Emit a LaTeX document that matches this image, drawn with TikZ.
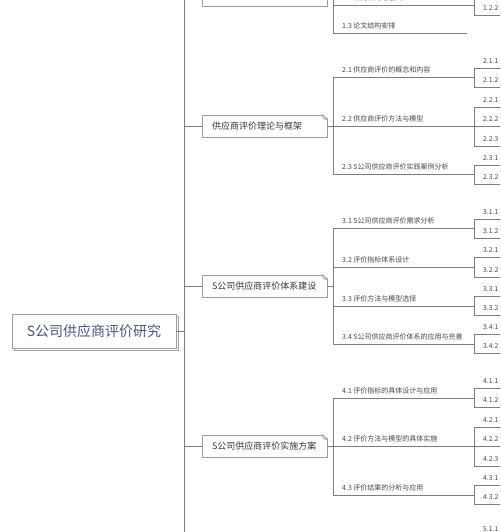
\documentclass[tikz,border=0pt]{standalone}
\usepackage{fontspec}
\newfontfamily\cjk{Noto Sans CJK SC}
\usetikzlibrary{shadows}
\definecolor{linegray}{HTML}{7E7E7E}
\definecolor{boxgray}{HTML}{9E9E9E}
\definecolor{rootblue}{HTML}{4A5585}
\definecolor{textdark}{HTML}{353535}
\definecolor{textgray}{HTML}{474747}
\newcommand\dogear[1]{%
  \fill[white] ([xshift=-5pt]#1.north east) -- ([xshift=0.6pt,yshift=0.6pt]#1.north east) -- ([yshift=-5pt]#1.north east) -- cycle;
  \draw[boxline] ([xshift=-5pt]#1.north east) -- ([yshift=-5pt]#1.north east);
  \draw[boxline] ([xshift=-5pt]#1.north east) -- ([xshift=-4pt,yshift=-4pt]#1.north east) -- ([yshift=-5pt]#1.north east);
}
\begin{document}
\begin{tikzpicture}[x=1pt,y=-1pt,
  conn/.style={draw=linegray, line width=0.8pt},
  boxline/.style={draw=boxgray, line width=0.75pt},
  rootbox/.style={boxline, fill=white, font=\cjk\fontsize{14}{16}\selectfont, text=rootblue,
     minimum width=164pt, minimum height=34pt, inner sep=0pt,
     copy shadow={shadow xshift=2.5pt, shadow yshift=-2.5pt, draw=boxgray, fill=white}},
  chap/.style={boxline, fill=white, font=\cjk\fontsize{9}{11}\selectfont, text=textdark,
     text width=105pt, inner xsep=10pt, inner ysep=0pt, minimum height=22pt, align=left},
  seclabel/.style={font=\cjk\fontsize{7}{8}\selectfont, text=textgray, anchor=base west, inner sep=0pt},
  sublabel/.style={font=\cjk\fontsize{6.8}{8}\selectfont, text=textgray, anchor=base west, inner sep=0pt}
]
\useasboundingbox (0,0) rectangle (500,532);
\fill[white] (0,0) rectangle (500,532);
\clip (0,0) rectangle (500,532);

% trunk
\coordinate (trunktop) at (184,-40);
\coordinate (trunkbot) at (184,580);
\draw[conn] (trunktop) -- (trunkbot);

% root
\node[rootbox] (root) at (94,331) {S公司供应商评价研究};
\coordinate (jroot) at (184,331);
\draw[conn] (root.east) -- (jroot);

% chapters
\foreach \n/\y/\t in {1/-5/{}, 2/126/{供应商评价理论与框架}, 3/286/{S公司供应商评价体系建设}, 4/446/{S公司供应商评价实施方案}} {
  \coordinate (jt\n) at (184,\y);
  \coordinate (jb\n) at (333,\y);
  \node[chap] (c\n) at (264.5,\y) {\t};
  \dogear{c\n}
  \draw[conn] (jt\n) -- (c\n.west);
  \draw[conn] (c\n.east) -- (jb\n);
}

% section brackets
\coordinate (br1a) at (333,-40); \coordinate (br1b) at (333,33);
\coordinate (br2a) at (333,77);  \coordinate (br2b) at (333,174);
\coordinate (br3a) at (333,228); \coordinate (br3b) at (333,344);
\coordinate (br4a) at (333,398); \coordinate (br4b) at (333,495);
\foreach \n in {1,2,3,4} { \draw[conn] (br\n a) -- (br\n b); }

% sections
\foreach \n/\y/\e/\t in {
  12/5/474/{1.2 研究目的与意义},
  13/33/467/{1.3 论文结构安排},
  21/77/474/{2.1 供应商评价的概念和内容},
  22/126/474/{2.2 供应商评价方法与模型},
  23/174/474/{2.3 S公司供应商评价实践案例分析},
  31/228/474/{3.1 S公司供应商评价需求分析},
  32/267/474/{3.2 评价指标体系设计},
  33/306/474/{3.3 评价方法与模型选择},
  34/344/474/{3.4 S公司供应商评价体系的应用与完善},
  41/398/474/{4.1 评价指标的具体设计与应用},
  42/446/474/{4.2 评价方法与模型的具体实施},
  43/495/474/{4.3 评价结果的分析与应用}} {
  \coordinate (sa\n) at (333,\y);
  \coordinate (sb\n) at (\e,\y);
  \draw[conn] (sa\n) -- (sb\n);
  \node[seclabel] (sl\n) at (342,\y-4.5) {\t};
}

% subsection brackets
\foreach \n/\a/\b in {12/-30/15, 21/68/87, 22/107/146, 23/165/184,
  31/219/238, 32/257/277, 33/296/315, 34/334/353,
  41/388/407, 42/427/466, 43/485/504} {
  \coordinate (ua\n) at (474,\a);
  \coordinate (ub\n) at (474,\b);
  \draw[conn] (ua\n) -- (ub\n);
}

% subsections
\foreach \y/\t [count=\i] in {
  15/1.2.2, 68/2.1.1, 87/2.1.2, 107/2.2.1, 126/2.2.2, 146/2.2.3, 165/2.3.1, 184/2.3.2,
  219/3.1.1, 238/3.1.2, 257/3.2.1, 277/3.2.2, 296/3.3.1, 315/3.3.2, 334/3.4.1, 353/3.4.2,
  388/4.1.1, 407/4.1.2, 427/4.2.1, 446/4.2.2, 466/4.2.3, 485/4.3.1, 504/4.3.2, 536/5.1.1} {
  \coordinate (ss\i) at (474,\y);
  \coordinate (se\i) at (510,\y);
  \draw[conn] (ss\i) -- (se\i);
  \node[sublabel] (st\i) at (483,\y-4.5) {\t};
}
\end{tikzpicture}
\end{document}
